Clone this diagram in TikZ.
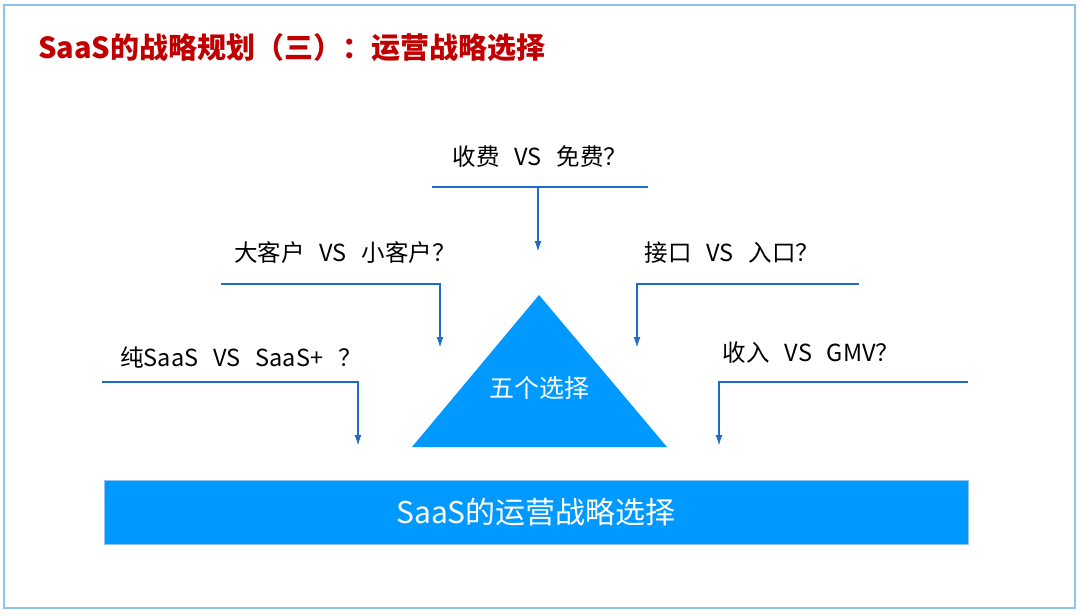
\documentclass[tikz,border=0pt]{standalone}
\usepackage{fontspec}
\setmainfont{Noto Sans CJK SC}
\usetikzlibrary{arrows.meta}
\definecolor{framec}{HTML}{8EC3EA}
\definecolor{titlered}{HTML}{C00000}
\definecolor{barblue}{HTML}{0099FF}
\definecolor{lineblue}{HTML}{1E6CC8}
\newcommand{\gap}{\hspace{15pt}}
\begin{document}
\begin{tikzpicture}[x=1pt,y=-1pt,
  conn/.style={draw=lineblue, line width=1.8pt},
  arr/.style={conn, -{Latex[length=11pt,width=7pt]}},
  lbl/.style={font=\fontsize{23.5}{23.5}\selectfont, text=black, inner sep=0pt},
  titlestyle/.style={font=\bfseries\fontsize{29}{29}\selectfont, text=titlered, inner sep=0pt},
  whitetext/.style={text=white, inner sep=0pt}
  ]
\useasboundingbox (0,0) rectangle (1080,614);
\draw[framec, line width=1.5pt] (4,5) rectangle (1075,608);
\node[titlestyle, anchor=west] (title) at (38,48) {SaaS的战略规划（三）：运营战略选择};

% bottom bar
\node[fill=barblue, draw=framec, line width=0.6pt, minimum width=864pt, minimum height=64pt,
      whitetext, font=\fontsize{30}{30}\selectfont] (bar) at (536,512) {SaaS的运营战略选择};

% triangle
\fill[barblue] (539,295) -- (667,447) -- (412,447) -- cycle;
\node[whitetext, font=\fontsize{25}{25}\selectfont] (five) at (539,388) {五个选择};

% connector coordinates
\coordinate (c1a) at (432,187);
\coordinate (c1b) at (648,187);
\coordinate (c1m) at (538,187);
\coordinate (c1e) at (538,252);
\coordinate (c2a) at (221,284);
\coordinate (c2b) at (440,284);
\coordinate (c2e) at (440,348);
\coordinate (c3a) at (102,382);
\coordinate (c3b) at (358,382);
\coordinate (c3e) at (358,446);
\coordinate (c4a) at (859,284);
\coordinate (c4b) at (637,284);
\coordinate (c4e) at (637,348);
\coordinate (c5a) at (968,382);
\coordinate (c5b) at (719,382);
\coordinate (c5e) at (719,446);

\draw[conn] (c1a) -- (c1b);
\draw[arr] (c1m) -- (c1e);
\draw[arr] (c2a) -- (c2b) -- (c2e);
\draw[arr] (c3a) -- (c3b) -- (c3e);
\draw[arr] (c4a) -- (c4b) -- (c4e);
\draw[arr] (c5a) -- (c5b) -- (c5e);

% labels
\node[lbl] (l1) at (540,157) {收费\gap VS\gap 免费？};
\node[lbl] (l2) at (345,253) {大客户\gap VS\gap 小客户？};
\node[lbl] (l3) at (241,357) {纯SaaS\gap VS\gap SaaS+\gap ？};
\node[lbl] (l4) at (732,253) {接口\gap VS\gap 入口？};
\node[lbl] (l5) at (811,353) {收入\gap VS\gap GMV？};
\end{tikzpicture}
\end{document}
